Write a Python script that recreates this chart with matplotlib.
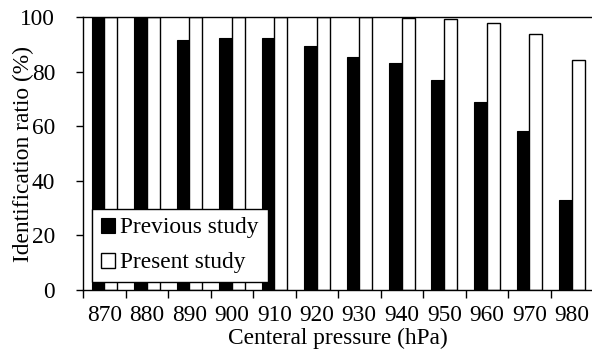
import numpy as np
import matplotlib
matplotlib.use("Agg")
import matplotlib.pyplot as plt

plt.rcParams['font.family'] = ['Liberation Serif', 'DejaVu Serif']
plt.rcParams['font.size'] = 16.8

# data
pressure = ['870', '880', '890', '900', '910', '920',
            '930', '940', '950', '960', '970', '980']
previous = [100, 100, 91.7, 92.4, 92.2, 89.4, 85.2, 83.0, 76.8, 68.9, 58.2, 32.8]
present = [100, 100, 100, 100, 100, 100, 100, 99.7, 99.1, 97.9, 93.9, 84.3]

x = np.arange(len(pressure))
w = 0.3

fig = plt.figure(figsize=(5.92, 3.54), dpi=100)
ax = fig.add_axes([83/592, 64/354, 510/592, 273/354])

ax.bar(x - w/2, previous, w, color='black', edgecolor='black', linewidth=0.8,
       label='Previous study')
ax.bar(x + w/2, present, w, color='white', edgecolor='black', linewidth=1.0,
       label='Present study')

ax.set_xlim(-0.5, len(pressure) - 0.5)
ax.set_ylim(0, 100)
ax.set_yticks(range(0, 101, 20))

# ticks at group boundaries, labels at group centres
ax.set_xticks(np.arange(len(pressure) + 1) - 0.5)
ax.set_xticklabels([])
ax.set_xticks(x, minor=True)
ax.set_xticklabels(pressure, minor=True)
ax.tick_params(axis='x', which='major', direction='out', length=6, width=1)
ax.tick_params(axis='x', which='minor', length=0, pad=10.5)
ax.tick_params(axis='y', direction='out', length=5, width=1, pad=15)

for s in ax.spines.values():
    s.set_linewidth(1.0)

ax.set_xlabel('Centeral pressure (hPa)', labelpad=1.5)
ax.set_ylabel('Identification ratio (%)')
ax.yaxis.set_label_coords(-0.096, 0.5)

leg = ax.legend(loc='lower left', bbox_to_anchor=(0.017, 0.028),
                frameon=True, fancybox=False, edgecolor='black', framealpha=1,
                handlelength=0.6, handleheight=0.6, handletextpad=0.25,
                labelspacing=0.6, borderpad=0.38, borderaxespad=0)
leg.get_frame().set_linewidth(1.0)

fig.savefig('out.png', dpi=100)
